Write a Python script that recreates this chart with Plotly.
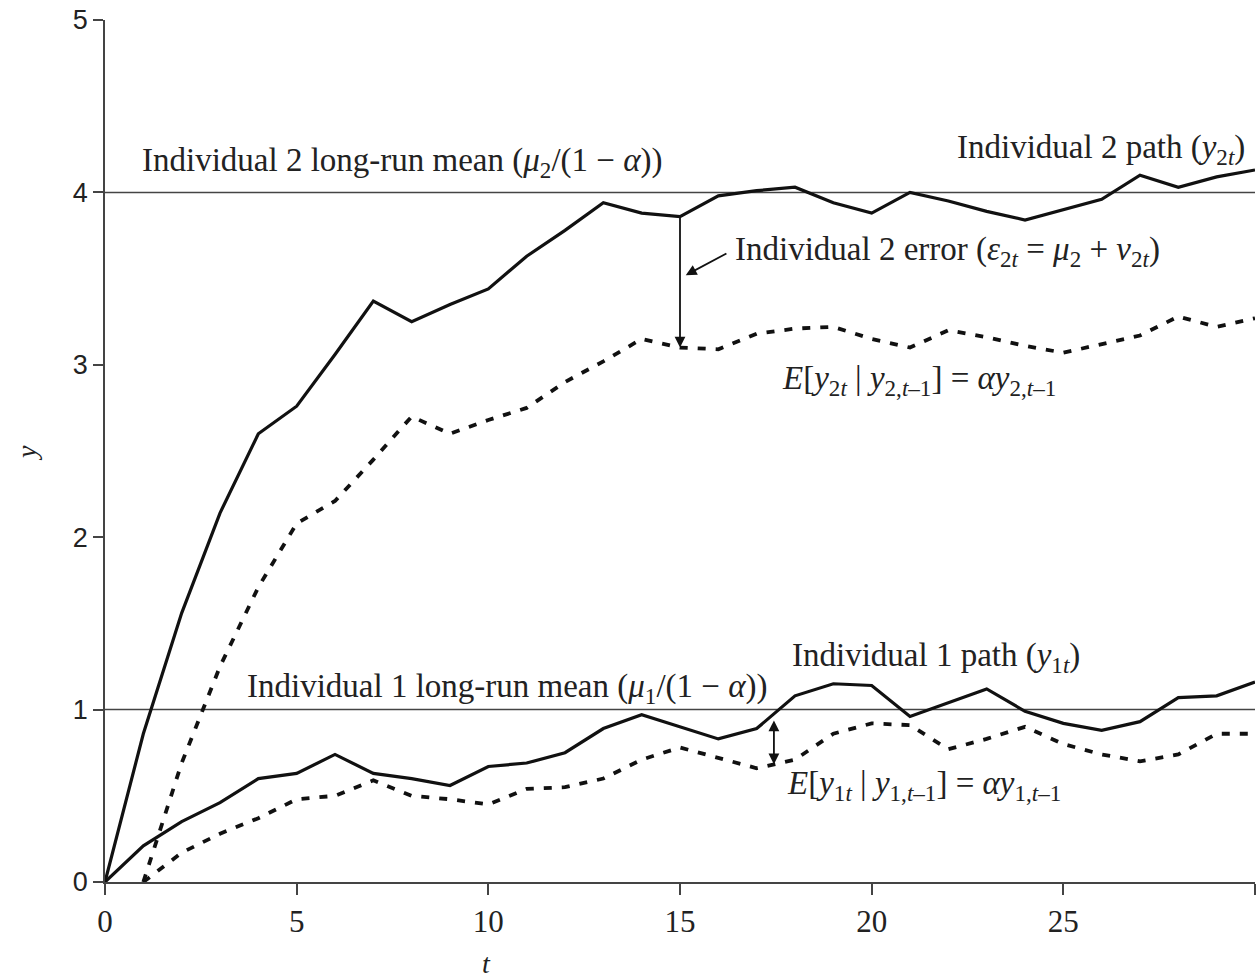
import plotly.graph_objects as go
import numpy as np

# ---- data ----
t_path = list(range(0, 31))
y2_path = [0.00, 0.86, 1.56, 2.14, 2.60, 2.76, 3.06, 3.37, 3.25, 3.35, 3.44,
           3.63, 3.78, 3.94, 3.88, 3.86, 3.98, 4.01, 4.03, 3.94, 3.88,
           4.00, 3.95, 3.89, 3.84, 3.90, 3.96, 4.10, 4.03, 4.09, 4.13]
y1_path = [0.00, 0.21, 0.35, 0.46, 0.60, 0.63, 0.74, 0.63, 0.60, 0.56, 0.67,
           0.69, 0.75, 0.89, 0.97, 0.90, 0.83, 0.89, 1.08, 1.15, 1.14,
           0.96, 1.04, 1.12, 0.99, 0.92, 0.88, 0.93, 1.07, 1.08, 1.16]
t_exp = list(range(1, 31))
e2_exp = [0.00, 0.69, 1.25, 1.71, 2.08, 2.21, 2.45, 2.70, 2.60, 2.68,
          2.75, 2.90, 3.02, 3.15, 3.10, 3.09, 3.18, 3.21, 3.22, 3.15,
          3.10, 3.20, 3.16, 3.11, 3.07, 3.12, 3.17, 3.28, 3.22, 3.27]
e1_exp = [0.00, 0.17, 0.28, 0.37, 0.48, 0.50, 0.59, 0.50, 0.48, 0.45,
          0.54, 0.55, 0.60, 0.71, 0.78, 0.72, 0.66, 0.71, 0.86, 0.92,
          0.91, 0.77, 0.83, 0.90, 0.80, 0.74, 0.70, 0.74, 0.86, 0.86]
long_run_means = [4.0, 1.0]
x_range = [0, 30]
y_range = [0, 5]
x_ticks = [0, 5, 10, 15, 20, 25, 30]
y_ticks = [0, 1, 2, 3, 4, 5]
err2_t = 15
err1_t = 17.45

INK = "#111111"
AX = "#444444"
SERIF = "Liberation Serif, Times New Roman, serif"
SANS = "Liberation Sans, Arial, sans-serif"

fig = go.Figure()

for m in long_run_means:
    fig.add_trace(go.Scatter(x=x_range, y=[m, m], mode="lines",
                             line=dict(color=AX, width=1.5), showlegend=False,
                             hoverinfo="skip"))

fig.add_trace(go.Scatter(x=t_exp, y=e2_exp, mode="lines",
                         line=dict(color=INK, width=3.8, dash="8px,10px"),
                         showlegend=False))
fig.add_trace(go.Scatter(x=t_exp, y=e1_exp, mode="lines",
                         line=dict(color=INK, width=3.8, dash="8px,10px"),
                         showlegend=False))
fig.add_trace(go.Scatter(x=t_path, y=y2_path, mode="lines",
                         line=dict(color=INK, width=3.2), showlegend=False))
fig.add_trace(go.Scatter(x=t_path, y=y1_path, mode="lines",
                         line=dict(color=INK, width=3.2), showlegend=False))

tf = dict(family=SERIF, size=33, color="#222222")
ann = []


def txt(x, y, s, anchor="left"):
    ann.append(dict(x=x, y=y, xref="x", yref="y", text=s, showarrow=False,
                    xanchor=anchor, yanchor="middle", font=tf))


txt(0.91, 4.175, "Individual 2 long-run mean (<i>μ</i><sub>2</sub>/(1 − <i>α</i>))")
txt(29.78, 4.25, "Individual 2 path (<i>y</i><sub>2<i>t</i></sub>)", anchor="right")
txt(16.38, 3.66, "Individual 2 error (<i>ε</i><sub>2<i>t</i></sub> = <i>μ</i><sub>2</sub> + <i>v</i><sub>2<i>t</i></sub>)")
txt(17.61, 2.91, "<i>E</i>[<i>y</i><sub>2<i>t</i></sub> | <i>y</i><sub>2,<i>t</i>–1</sub>] = <i>αy</i><sub>2,<i>t</i>–1</sub>")
txt(17.87, 1.30, "Individual 1 path (<i>y</i><sub>1<i>t</i></sub>)")
txt(3.65, 1.125, "Individual 1 long-run mean (<i>μ</i><sub>1</sub>/(1 − <i>α</i>))")
txt(17.74, 0.557, "<i>E</i>[<i>y</i><sub>1<i>t</i></sub> | <i>y</i><sub>1,<i>t</i>–1</sub>] = <i>αy</i><sub>1,<i>t</i>–1</sub>")

# error arrows drawn from the data
y2_at = float(np.interp(err2_t, t_path, y2_path))
e2_at = float(np.interp(err2_t, t_exp, e2_exp))
ann.append(dict(x=err2_t, y=e2_at, ax=err2_t, ay=y2_at, xref="x", yref="y",
                axref="x", ayref="y", text="", showarrow=True, arrowhead=2,
                arrowsize=1.2, arrowwidth=1.8, arrowcolor=INK))
y1_at = float(np.interp(err1_t, t_path, y1_path)) - 0.03
e1_at = float(np.interp(err1_t, t_exp, e1_exp))
ann.append(dict(x=err1_t, y=e1_at, ax=err1_t, ay=y1_at, xref="x", yref="y",
                axref="x", ayref="y", text="", showarrow=True, arrowhead=2,
                arrowside="end+start", arrowsize=1.2, arrowwidth=1.8,
                arrowcolor=INK))
# pointer from error label
ann.append(dict(x=15.15, y=3.52, ax=16.25, ay=3.65, xref="x", yref="y",
                axref="x", ayref="y", text="", showarrow=True, arrowhead=2,
                arrowsize=1.2, arrowwidth=1.8, arrowcolor=INK))

# axis titles
ann.append(dict(x=-0.0678, y=0.4977, xref="paper", yref="paper", text="<i>y</i>",
                showarrow=False, textangle=-90, xanchor="center", yanchor="middle",
                font=dict(family=SERIF, size=28, color="#222222")))
ann.append(dict(x=0.332, y=-0.094, xref="paper", yref="paper", text="<i>t</i>",
                showarrow=False, xanchor="center", yanchor="middle",
                font=dict(family=SERIF, size=28, color="#222222")))

fig.update_layout(
    width=1259, height=978,
    margin=dict(l=105, r=4, t=20, b=96),
    paper_bgcolor="white", plot_bgcolor="white",
    annotations=ann,
    showlegend=False,
)
fig.update_xaxes(range=x_range, tickvals=x_ticks, ticks="outside", ticklen=11,
                 tickwidth=1.8, tickcolor=AX, showline=True, linecolor=AX,
                 linewidth=1.8, showgrid=False, zeroline=False,
                 tickfont=dict(family=SERIF, size=31, color="#222222"))
fig.update_yaxes(range=y_range, tickvals=y_ticks, ticks="outside", ticklen=10,
                 tickwidth=1.8, tickcolor=AX, showline=True, linecolor=AX,
                 linewidth=1.8, showgrid=False, zeroline=False,
                 tickfont=dict(family=SANS, size=27, color="#222222"))

fig.write_html("out.html",
               config={"displayModeBar": False},
               post_script="document.body.style.margin='0';"
                           "document.body.style.overflow='hidden';")
